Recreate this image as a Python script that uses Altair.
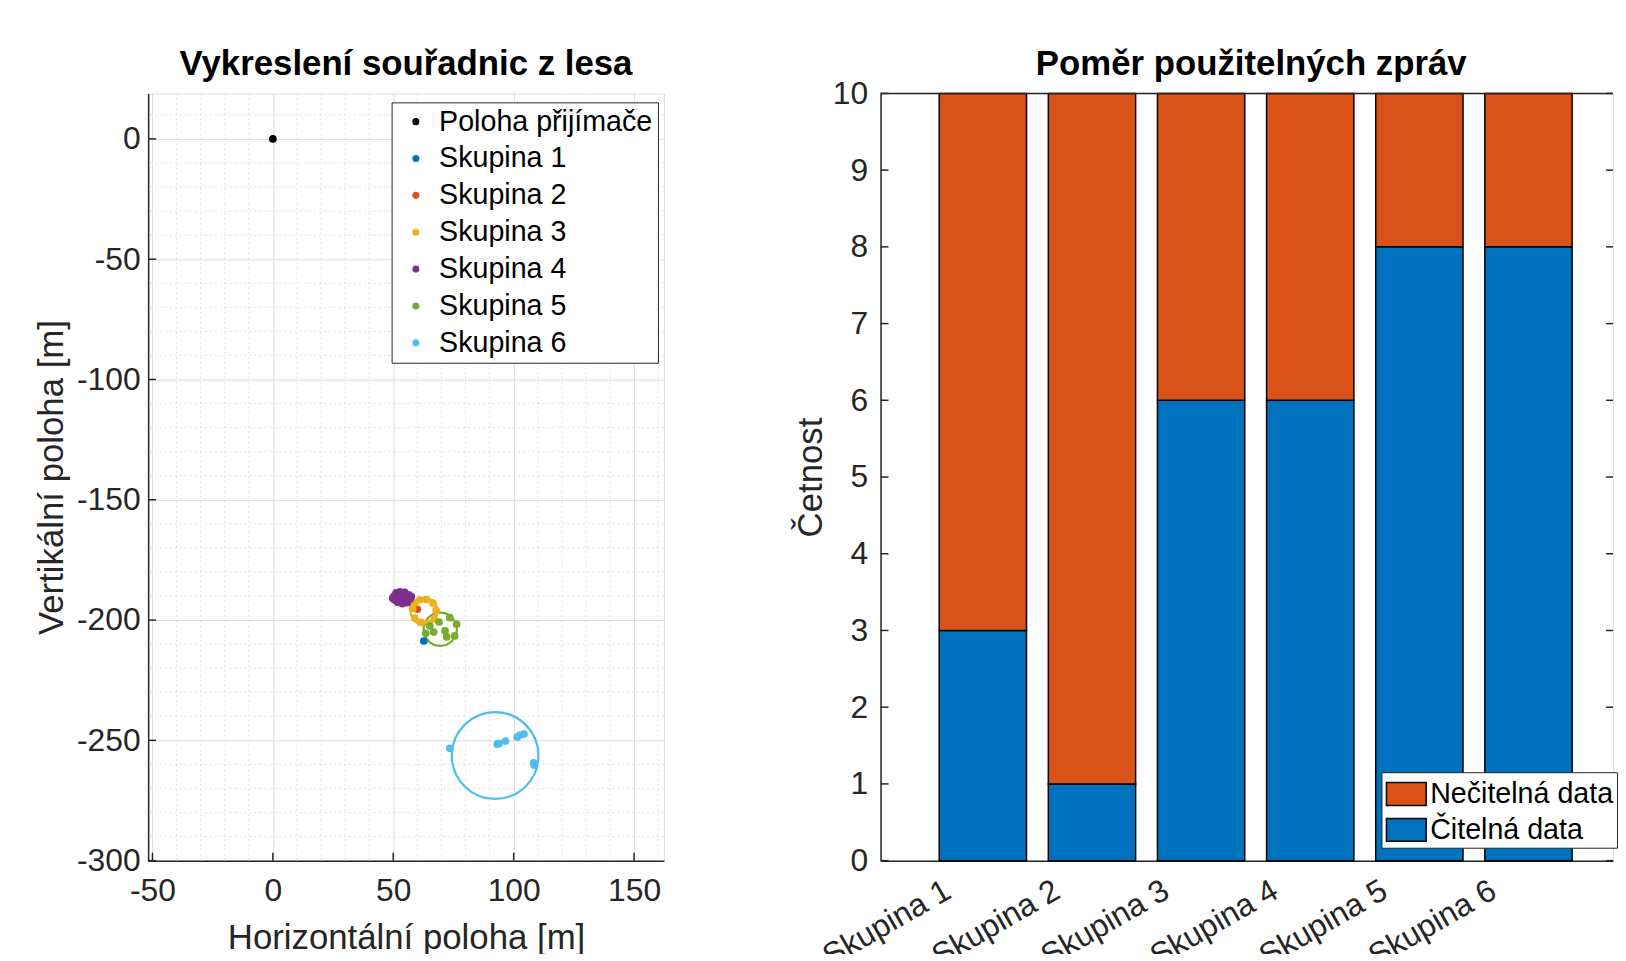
import altair as alt
import pandas as pd

FONT = "Liberation Sans"
AX = "#262626"

# ---------------- left panel data ----------------
legend_names = ["Poloha přijímače", "Skupina 1", "Skupina 2", "Skupina 3",
                "Skupina 4", "Skupina 5", "Skupina 6"]
legend_colors = ["#000000", "#0072BD", "#D95319", "#EDB120",
                 "#7E2F8E", "#77AC30", "#4DBEEE"]

receiver_x = [0.0]
receiver_y = [0.0]
g1_x = [62.7]
g1_y = [-208.7]
g2_x = [60.0]
g2_y = [-195.5]
g3_x = [58.0, 58.8, 61.0, 63.8, 66.5, 67.8, 67.0, 64.5, 61.5, 59.0]
g3_y = [-195.2, -193.0, -191.6, -191.5, -193.0, -196.0, -199.5, -201.3, -201.0, -199.2]
g4_x = [50.3, 51.2, 52.8, 54.8, 56.5, 57.0, 55.8, 53.8, 51.8, 50.5, 53.5, 55.0, 52.0,
        49.8, 57.5]
g4_y = [-190.0, -188.7, -188.3, -188.5, -189.5, -191.2, -192.8, -193.2, -192.6,
        -191.6, -190.2, -190.8, -190.5, -190.9, -190.3]
g5_x = [69.0, 71.5, 66.8, 75.5, 72.2, 76.3, 65.2, 63.5, 73.5]
g5_y = [-200.8, -204.5, -205.0, -206.6, -207.0, -201.7, -202.5, -205.5, -199.0]
g6_x = [73.5, 93.2, 94.0, 96.6, 101.5, 102.6, 104.3, 108.3, 108.6]
g6_y = [-253.3, -251.6, -251.2, -250.3, -248.7, -247.8, -247.4, -259.4, -260.3]

circle_names = ["Skupina 3", "Skupina 4", "Skupina 5", "Skupina 6"]
circle_x = [62.8, 53.6, 69.5, 92.3]
circle_y = [-196.4, -190.6, -203.8, -256.3]
circle_r = [5.6, 3.0, 6.9, 18.0]

x_major = [-50, 0, 50, 100, 150]
y_major = [-300, -250, -200, -150, -100, -50, 0]
x_minor = [v for v in range(-40, 170, 10) if v % 50 != 0]
y_minor = [v for v in range(-290, 20, 10) if v % 50 != 0]

left_title = ["Vykreslení souřadnic z lesa"]

# ---------------- right panel data ----------------
groups = ["Skupina 1", "Skupina 2", "Skupina 3", "Skupina 4", "Skupina 5", "Skupina 6"]
citelna = [3, 1, 6, 6, 8, 8]
necitelna = [7, 9, 4, 4, 2, 2]
bar_names = ["Nečitelná data", "Čitelná data"]
bar_colors = ["#D95319", "#0072BD"]
y_ticks_r = list(range(0, 11))

right_title = ["Poměr použitelných zpráv"]

# ---------------- geometry ----------------
LW, LH = 519, 772
RW, RH = 737, 772
X_DOM = [-51.8, 162.4]
Y_DOM = [-300, 18.9]
PX = LW / (X_DOM[1] - X_DOM[0])

# ---------------- left chart ----------------
pts_rows = []
for name, xs, ys in [
    ("Poloha přijímače", receiver_x, receiver_y),
    ("Skupina 1", g1_x, g1_y), ("Skupina 2", g2_x, g2_y),
    ("Skupina 3", g3_x, g3_y), ("Skupina 4", g4_x, g4_y),
    ("Skupina 5", g5_x, g5_y), ("Skupina 6", g6_x, g6_y)]:
    for a, b in zip(xs, ys):
        pts_rows.append({"group": name, "x": a, "y": b})
pts = pd.DataFrame(pts_rows)
circles = pd.DataFrame({"group": circle_names, "x": circle_x, "y": circle_y, "r": circle_r})

xscale = alt.Scale(domain=X_DOM, nice=False, zero=False)
yscale = alt.Scale(domain=Y_DOM, nice=False, zero=False)

xaxis = alt.Axis(values=x_major, grid=True, gridColor="#dcdcdc", gridWidth=1,
                 domainColor=AX, domainWidth=1.5, ticks=False, tickSize=0,
                 labelFont=FONT, labelFontSize=32, labelColor=AX, labelPadding=15,
                 labelExpr="'' + datum.value", labelOverlap=False, labelFlush=False,
                 title="Horizontální poloha [m]", titleFont=FONT, titleFontSize=35,
                 titleFontWeight="normal", titleColor=AX, titlePadding=14)
yaxis = alt.Axis(values=y_major, grid=True, gridColor="#dcdcdc", gridWidth=1,
                 domainColor=AX, domainWidth=1.5, ticks=False, tickSize=0,
                 labelFont=FONT, labelFontSize=32, labelColor=AX, labelPadding=8,
                 labelExpr="'' + datum.value", labelOverlap=False, labelFlush=False,
                 title="Vertikální poloha [m]", titleFont=FONT, titleFontSize=35,
                 titleFontWeight="normal", titleColor=AX, titlePadding=7)

color_left = alt.Scale(domain=legend_names, range=legend_colors)

minor_v = alt.Chart(pd.DataFrame({"v": x_minor})).mark_rule(
    color="#e2e2e2", strokeDash=[2, 3], strokeWidth=1).encode(
    x=alt.X("v:Q", scale=xscale, axis=xaxis))
minor_h = alt.Chart(pd.DataFrame({"v": y_minor})).mark_rule(
    color="#e2e2e2", strokeDash=[2, 3], strokeWidth=1).encode(
    y=alt.Y("v:Q", scale=yscale, axis=yaxis))

circ = alt.Chart(circles).mark_point(filled=False, shape="circle", strokeWidth=2.2, opacity=1).encode(
    x=alt.X("x:Q", scale=xscale, axis=xaxis),
    y=alt.Y("y:Q", scale=yscale, axis=yaxis),
    color=alt.Color("group:N", scale=color_left, legend=None),
    size=alt.Size("r:Q", scale=alt.Scale(type="pow", exponent=2, domain=[0, 20],
                                         range=[0, (40 * PX) ** 2]), legend=None),
)

dots = alt.Chart(pts).mark_circle(size=60, opacity=1).encode(
    x=alt.X("x:Q", scale=xscale, axis=xaxis),
    y=alt.Y("y:Q", scale=yscale, axis=yaxis),
    color=alt.Color("group:N", scale=color_left, legend=alt.Legend(
        title=None, orient="none", legendX=245, legendY=9,
        direction="vertical", strokeColor=AX, fillColor="white", padding=5,
        labelFont=FONT, labelFontSize=28.8, labelColor="black", labelLimit=400,
        symbolType="circle", symbolSize=50, symbolStrokeWidth=0,
        symbolOffset=5, labelOffset=9, rowPadding=7.1)),
)

tick_x = alt.Chart(pd.DataFrame({"v": x_major})).mark_rule(color=AX, strokeWidth=1.5).encode(
    x=alt.X("v:Q", scale=xscale, axis=xaxis), y=alt.value(LH), y2=alt.value(LH - 8))
tick_y = alt.Chart(pd.DataFrame({"v": y_major})).mark_rule(color=AX, strokeWidth=1.5).encode(
    y=alt.Y("v:Q", scale=yscale, axis=yaxis), x=alt.value(0), x2=alt.value(8))

ltitle = alt.Chart(pd.DataFrame({"t": left_title})).mark_text(
    font=FONT, fontSize=35, fontWeight="bold", color="black",
    align="center", baseline="alphabetic").encode(
    text="t:N", x=alt.value(LW / 2), y=alt.value(-19))

left = alt.layer(minor_v, minor_h, circ, dots, tick_x, tick_y, ltitle).resolve_scale(
    color="independent", size="independent"
).properties(width=LW, height=LH)

# ---------------- right chart ----------------
bar_rows = []
for g, c, n in zip(groups, citelna, necitelna):
    bar_rows.append({"skupina": g, "typ": "Čitelná data", "val": c, "ord": 0})
    bar_rows.append({"skupina": g, "typ": "Nečitelná data", "val": n, "ord": 1})
bars_df = pd.DataFrame(bar_rows)

xr_scale = alt.Scale(domain=groups, paddingInner=0.2, paddingOuter=0.456, align=0.589)
yr_scale = alt.Scale(domain=[0, 10], nice=False)

xr_axis = alt.Axis(labelAngle=-30, labelAlign="right", labelBaseline="middle",
                   labelOffset=-35, labelPadding=27, ticks=False, tickSize=0,
                   domainColor=AX, domainWidth=1.5, labelFont=FONT, labelFontSize=32,
                   labelColor=AX, title=None, grid=False)
yr_axis = alt.Axis(values=y_ticks_r, ticks=False, tickSize=0, domainColor=AX, domainWidth=1.5,
                   labelFont=FONT, labelFontSize=32, labelColor=AX, labelPadding=13,
                   title="Četnost", titleFont=FONT, titleFontSize=35, titleFontWeight="normal",
                   titleColor=AX, titlePadding=4, grid=False)

bars = alt.Chart(bars_df).mark_bar(stroke="black", strokeWidth=1.5).encode(
    x=alt.X("skupina:N", scale=xr_scale, axis=xr_axis, sort=groups),
    y=alt.Y("val:Q", stack="zero", scale=yr_scale, axis=yr_axis),
    color=alt.Color("typ:N", scale=alt.Scale(domain=bar_names, range=bar_colors),
                    legend=alt.Legend(
                        title=None, orient="none", legendX=504, legendY=683,
                        direction="vertical", strokeColor=AX, fillColor="white",
                        padding=3, labelFont=FONT, labelFontSize=28.8, labelColor="black",
                        labelLimit=400,
                        symbolType="M-1.11,-0.64H1.11V0.64H-1.11Z", symbolSize=1296,
                        symbolStrokeColor="black", symbolStrokeWidth=1.5,
                        symbolOffset=3, labelOffset=5, rowPadding=2)),
    order=alt.Order("ord:Q"),
)

top_line = alt.Chart(pd.DataFrame({"v": [0]})).mark_rule(color=AX, strokeWidth=1.5).encode(
    x=alt.value(0), x2=alt.value(RW), y=alt.value(0))
rtick_l = alt.Chart(pd.DataFrame({"v": y_ticks_r})).mark_rule(color=AX, strokeWidth=1.5).encode(
    y=alt.Y("v:Q", scale=yr_scale, axis=yr_axis), x=alt.value(0), x2=alt.value(8))
rtick_r = alt.Chart(pd.DataFrame({"v": y_ticks_r})).mark_rule(color=AX, strokeWidth=1.5).encode(
    y=alt.Y("v:Q", scale=yr_scale, axis=yr_axis), x=alt.value(RW - 7), x2=alt.value(RW))

rtitle = alt.Chart(pd.DataFrame({"t": right_title})).mark_text(
    font=FONT, fontSize=35, fontWeight="bold", color="black",
    align="center", baseline="alphabetic").encode(
    text="t:N", x=alt.value(373), y=alt.value(-19))

right = alt.layer(bars, top_line, rtick_l, rtick_r, rtitle).properties(width=RW, height=RH)

chart = alt.hconcat(left, right, spacing=128).resolve_scale(
    color="independent", x="independent", y="independent", size="independent"
).resolve_legend(color="independent", size="independent").properties(
    padding={"left": 26, "top": 35, "right": 0, "bottom": -22}
).configure_view(stroke=None).configure(background="white")

chart.save("out.html", embed_options={"renderer": "svg", "actions": False})
